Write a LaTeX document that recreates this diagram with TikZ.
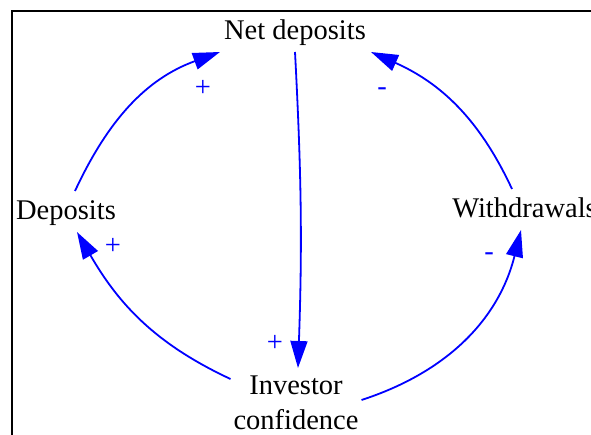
\documentclass[tikz,border=0pt]{standalone}
\usepackage{fontspec}
\setmainfont{Liberation Serif}
\usetikzlibrary{arrows.meta}
\begin{document}
\begin{tikzpicture}[x=1pt,y=1pt,
  font=\fontsize{28.5}{35}\selectfont,
  txt/.style={inner sep=0pt,outer sep=0pt,anchor=base,text height=29pt,text depth=12pt},
  lbl/.style={inner sep=0pt,anchor=base,text=blue},
  arr/.style={draw=blue,line width=1.8pt,-{Triangle[length=27pt,width=17pt]}},
  frame/.style={draw=black,line width=2pt}]
\useasboundingbox (0,0) rectangle (591,435);
\draw[frame] (12,-10) -- (12,424) -- (610,424);
% nodes
\node[txt,minimum width=152pt] (net) at (295,395) {Net deposits};
\node[txt] (dep) at (66,215) {Deposits};
\node[txt] (wd) at (524.5,217) {Withdrawals};
\node[txt,text height=27pt,text depth=50pt,minimum width=131pt] (ic) at (296,40)
  {\begin{tabular}[t]{@{}c@{}}Investor\\confidence\end{tabular}};
% connectors
\draw[arr] ([xshift=9pt]dep.north) to[out=65,in=200] ([xshift=-75pt]net.south);
\draw[arr] ([xshift=-12.5pt]wd.north) to[out=115,in=-24] ([xshift=76pt]net.south);
\draw[arr] (net.south) to[out=-87,in=88] ([xshift=2pt]ic.north);
\draw[arr] ([yshift=-11pt]ic.north west) to[out=155,in=-60] ([xshift=11pt]dep.south);
\draw[arr] ([yshift=-32pt]ic.north east) to[out=18,in=256] ([xshift=-3.5pt]wd.south);
% polarity labels
\node[lbl] (p1) at (203,338) {+};
\node[lbl] (p2) at (382,339) {-};
\node[lbl] (p3) at (113,180) {+};
\node[lbl] (p4) at (489,174) {-};
\node[lbl] (p5) at (275,83) {+};
\end{tikzpicture}
\end{document}
